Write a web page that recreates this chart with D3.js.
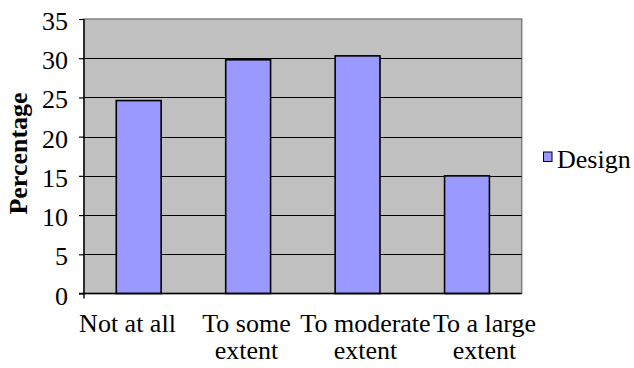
<!DOCTYPE html>
<html>
<head>
<meta charset="utf-8">
<script src="https://cdn.jsdelivr.net/npm/d3@7"></script>
<style>
  html, body { margin: 0; padding: 0; background: #fff; }
  svg { display: block; }
  text { font-family: "Liberation Serif", "Times New Roman", serif; fill: #000; }
</style>
</head>
<body>
<svg id="chart" width="634" height="368"></svg>
<script>
// Share of responses per extent category
const categories = ["Not at all", "To some extent", "To moderate extent", "To a large extent"];
const categoryLines = [["Not at all"], ["To some", "extent"], ["To moderate", "extent"], ["To a large", "extent"]];
const designValues = [24.6, 29.8, 30.3, 15.0];
const yTicks = [0, 5, 10, 15, 20, 25, 30, 35];
const seriesName = "Design";
const axisTitle = "Percentage";

const svg = d3.select("#chart");
const plot = { left: 84, right: 521.7, top: 19, bottom: 293.5 };

const x = d3.scaleBand().domain(categories).range([plot.left, plot.right]).padding(0);
const y = d3.scaleLinear().domain([0, 35]).range([plot.bottom, plot.top]);
// category labels sit on a slightly wider spread than the bars
const xLabel = d3.scaleBand().domain(categories).range([68, 544]).padding(0);

const barW = x.bandwidth() * 0.41;
const fontSize = 26;

// plot background
svg.append("rect")
  .attr("x", plot.left).attr("y", plot.top)
  .attr("width", plot.right - plot.left).attr("height", plot.bottom - plot.top)
  .attr("fill", "#c0c0c0")
  .attr("stroke", "#808080").attr("stroke-width", 1.5);

// horizontal gridlines
svg.append("g").selectAll("line")
  .data(yTicks.filter(t => t > 0 && t < 35))
  .join("line")
  .attr("x1", plot.left).attr("x2", plot.right)
  .attr("y1", d => Math.round(y(d)) + 0.5).attr("y2", d => Math.round(y(d)) + 0.5)
  .attr("stroke", "#000").attr("stroke-width", 1.2);

// bars
svg.append("g").selectAll("rect")
  .data(designValues)
  .join("rect")
  .attr("x", (d, i) => x(categories[i]) + (x.bandwidth() - barW) / 2)
  .attr("y", d => y(d))
  .attr("width", barW)
  .attr("height", d => y(0) - y(d))
  .attr("fill", "#9999ff")
  .attr("stroke", "#000").attr("stroke-width", 1.6);

// y axis
const yAxis = d3.axisLeft(y).tickValues(yTicks).tickSize(5).tickFormat("");
const gy = svg.append("g").attr("transform", `translate(${plot.left},0)`).call(yAxis);
gy.select(".domain").remove();
gy.selectAll(".tick line").attr("stroke", "#000").attr("stroke-width", 1.2);
svg.append("line")
  .attr("x1", plot.left).attr("x2", plot.left)
  .attr("y1", plot.top).attr("y2", plot.bottom + 5)
  .attr("stroke", "#000").attr("stroke-width", 1.4);

// x axis baseline
svg.append("line")
  .attr("x1", plot.left - 5).attr("x2", plot.right)
  .attr("y1", plot.bottom).attr("y2", plot.bottom)
  .attr("stroke", "#000").attr("stroke-width", 1.6);

// y tick labels
svg.append("g").selectAll("text")
  .data(yTicks)
  .join("text")
  .attr("x", 68)
  .attr("y", d => y(d) + 11)
  .attr("text-anchor", "end")
  .attr("font-size", fontSize)
  .text(d => d);

// category labels, one text element per wrapped line
const catLines = categories.flatMap((c, i) =>
  categoryLines[i].map((line, j) => ({ cat: c, line, row: j })));
svg.append("g").selectAll("text")
  .data(catLines)
  .join("text")
  .attr("x", d => xLabel(d.cat) + xLabel.bandwidth() / 2)
  .attr("y", d => 332 + d.row * 27)
  .attr("text-anchor", "middle")
  .attr("font-size", fontSize)
  .text(d => d.line);

// axis title
svg.append("text")
  .attr("transform", "translate(27,153.5) rotate(-90)")
  .attr("text-anchor", "middle")
  .attr("font-size", 26)
  .attr("font-weight", "bold")
  .text(axisTitle);

// legend
const legend = svg.append("g");
legend.append("rect")
  .attr("x", 543.5).attr("y", 152)
  .attr("width", 8.5).attr("height", 9.5)
  .attr("fill", "#9999ff").attr("stroke", "#000").attr("stroke-width", 1);
legend.append("text")
  .attr("x", 557).attr("y", 168)
  .attr("font-size", fontSize)
  .text(seriesName);
</script>
</body>
</html>
